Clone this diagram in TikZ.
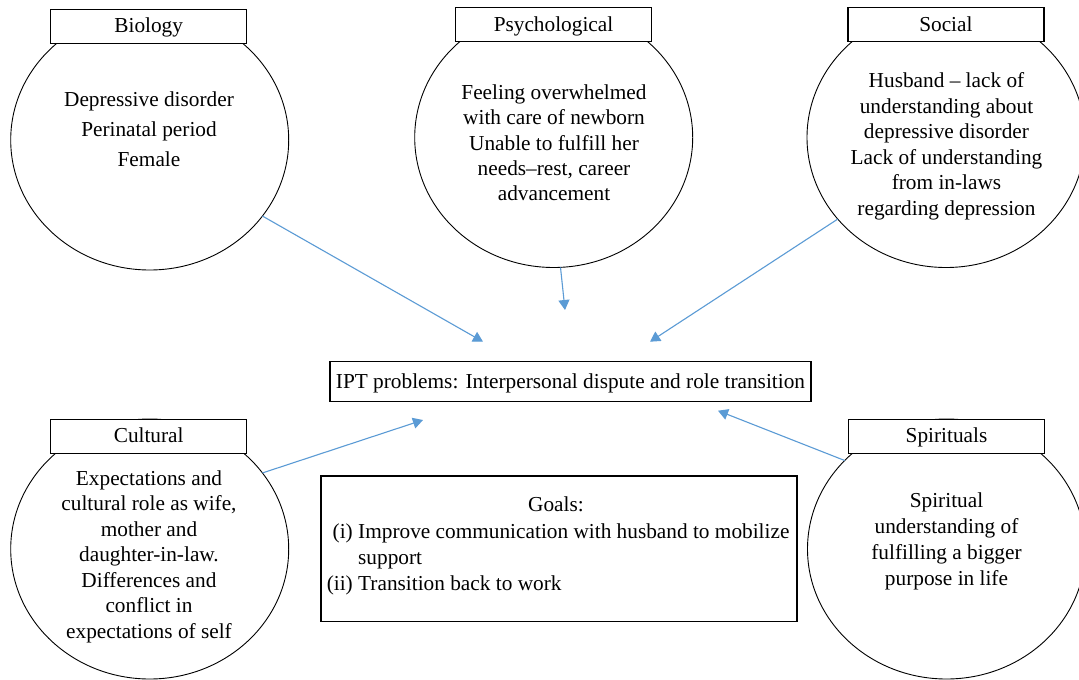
\documentclass[tikz,border=0pt]{standalone}
\usepackage{fontspec}
\setmainfont{Liberation Serif}
\usetikzlibrary{shapes.geometric,arrows.meta}
\definecolor{arrowc}{RGB}{91,155,213}
\newcommand{\diagfont}{\fontsize{21.3pt}{25pt}\selectfont}
\begin{document}
\begin{tikzpicture}[x=1pt,y=-1pt,font=\diagfont,
  circ/.style={draw,ellipse,minimum width=278pt,minimum height=260pt,inner sep=0pt,outer sep=0pt,line width=0.9pt},
  lab/.style={draw,fill=white,minimum width=196pt,minimum height=34pt,inner sep=0pt,line width=1.2pt,text height=14pt,text depth=1.2pt},
  txt/.style={anchor=base,inner sep=0pt},
  arr/.style={draw=arrowc,line width=1.1pt,-{Triangle[length=10pt,width=11pt]}}
]
\path[use as bounding box,clip] (0,0) rectangle (1079,680);
\fill[white] (0,0) rectangle (1079,680);
% ellipses
\node[circ] (bioC) at (149.7,140) {};
\node[circ] (psyC) at (553.7,137.5) {};
\node[circ] (socC) at (946,137.5) {};
\node[circ] (culC) at (149.7,549) {};
\node[circ] (spiC) at (946.5,549) {};
% label boxes
\node[lab] (bioL) at (148.7,26.3) {Biology};
\node[lab] (psyL) at (553.5,24.8) {Psychological};
\node[lab] (socL) at (945.9,24.8) {Social};
\node[lab] (culL) at (148.7,436.2) {Cultural};
\node[lab] (spiL) at (946.5,436.5) {Spirituals};
% central boxes
\node[draw,line width=1.2pt,minimum width=481pt,minimum height=40pt,inner sep=0pt,text height=15pt,text depth=1.2pt] (ipt) at (570.5,381.7) {IPT problems: Interpersonal dispute and role transition};
\node[draw,line width=1.2pt,minimum width=476pt,minimum height=145.7pt,inner sep=0pt] (goals) at (559,548.85) {};
% texts
\foreach \t [count=\i] in {Depressive disorder, Perinatal period, Female}
  \node[txt] (bioT\i) at (149,{106+30.3*(\i-1)}) {\t};
\foreach \t [count=\i] in {Feeling overwhelmed, with care of newborn, Unable to fulfill her, {needs–rest, career}, advancement}
  \node[txt] (psyT\i) at (554,{99.5+25.3*(\i-1)}) {\t};
\foreach \t [count=\i] in {Husband – lack of, understanding about, depressive disorder, Lack of understanding, from in-laws, regarding depression}
  \node[txt] (socT\i) at (946.5,{87.5+25.5*(\i-1)}) {\t};
\foreach \t [count=\i] in {Expectations and, {cultural role as wife,}, mother and, daughter-in-law., Differences and, conflict in, expectations of self}
  \node[txt] (culT\i) at (149,{485+25.5*(\i-1)}) {\t};
\foreach \t [count=\i] in {Spiritual, understanding of, fulfilling a bigger, purpose in life}
  \node[txt] (spiT\i) at (946.5,{507+26*(\i-1)}) {\t};
\node[txt] (gT) at (556,511) {Goals:};
\node[txt,anchor=base east] (gL1) at (353,538) {(i)};
\node[txt,anchor=base west] (gI1) at (358,538) {Improve communication with husband to mobilize};
\node[txt,anchor=base west] (gI1b) at (358,564) {support};
\node[txt,anchor=base east] (gL2) at (353,590.5) {(ii)};
\node[txt,anchor=base west] (gI2) at (358,590.5) {Transition back to work};
% arrows
\coordinate (bioTip) at (483,341.7);
\coordinate (psyTip) at (565,310);
\coordinate (socTip) at (650,341.7);
\coordinate (culTip) at (423,420);
\coordinate (spiTip) at (718,410.7);
\draw[arr] (bioC.-34.2) -- (bioTip);
\draw[arr] (psyC.-87.2) -- (psyTip);
\draw[arr] (socC.-143.5) -- (socTip);
\draw[arr] (culC.34.7) -- (culTip);
\draw[arr] (spiC.139.4) -- (spiTip);
\end{tikzpicture}
\end{document}
